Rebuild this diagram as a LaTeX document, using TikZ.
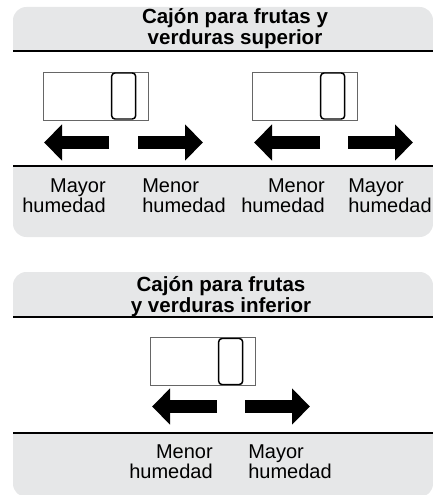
\documentclass[tikz,border=0pt]{standalone}
\usepackage{fontspec}
\setmainfont{Liberation Sans}
\usetikzlibrary{arrows.meta, positioning}
\definecolor{panelgray}{RGB}{230,231,232}

\begin{document}
\begin{tikzpicture}[
        x=0.75pt, y=-0.75pt,
        every node/.style={font=\fontsize{15}{15}\selectfont, inner sep=0pt},
        heading/.style={font=\bfseries\fontsize{15.4}{13.5}\selectfont, align=center, anchor=north},
        panel/.style={fill=panelgray, rounded corners=10pt},
        band/.style={fill=white},
        rule/.style={draw, line width=0.9pt},
        slot/.style={draw=black!60, line width=0.6pt, fill=white, minimum width=78.75pt, minimum height=36pt},
        knob/.style={draw, line width=1.1pt, rounded corners=2.5pt, minimum width=18pt, minimum height=34.5pt},
        fatarrow/.style={line width=9.75pt, -{Triangle[length=13.5pt, width=26.25pt]}},
        leftlabel/.style={anchor=north east, align=right},
        rightlabel/.style={anchor=north west, align=left}
    ]
        \useasboundingbox (0,0) rectangle (432,495);

        % Panels
        \fill[panel] (13,7) rectangle (433,237);
        \fill[band] (13,51) rectangle (433,166);
        \draw[rule] (13,51) -- (433,51);
        \draw[rule] (13,166) -- (433,166);

        \fill[panel] (13,272) rectangle (433,497);
        \fill[band] (13,317) rectangle (433,433);
        \draw[rule] (13,317) -- (433,317);
        \draw[rule] (13,433) -- (433,433);

        % Headings
        \node[heading] (upper_title) at (235,8.5) {Cajón para frutas y\\verduras superior};
        \node[heading] (lower_title) at (221,276.5) {Cajón para frutas\\y verduras inferior};

        % Sliders
        \node[slot] (slot1) at (95.5,96) {};
        \node[knob, left=9pt of slot1.east] (knob1) {};
        \node[slot] (slot2) at (304.5,96) {};
        \node[knob, left=9pt of slot2.east] (knob2) {};
        \node[slot] (slot3) at (202.5,361.5) {};
        \node[knob, left=9pt of slot3.east] (knob3) {};

        % Arrows
        \coordinate (tail1l) at (109,142.5);
        \coordinate (tip1l) at (44,142.5);
        \coordinate (tail1r) at (138,142.5);
        \coordinate (tip1r) at (203,142.5);
        \coordinate (tail2l) at (320,142.5);
        \coordinate (tip2l) at (254,142.5);
        \coordinate (tail2r) at (348,142.5);
        \coordinate (tip2r) at (413,142.5);
        \coordinate (tail3l) at (217,406.5);
        \coordinate (tip3l) at (152,406.5);
        \coordinate (tail3r) at (245,406.5);
        \coordinate (tip3r) at (310,406.5);
        \draw[fatarrow] (tail1l) -- (tip1l);
        \draw[fatarrow] (tail1r) -- (tip1r);
        \draw[fatarrow] (tail2l) -- (tip2l);
        \draw[fatarrow] (tail2r) -- (tip2r);
        \draw[fatarrow] (tail3l) -- (tip3l);
        \draw[fatarrow] (tail3r) -- (tip3r);

        % Labels
        \node[leftlabel] (more1) at (106,178.7) {Mayor\\humedad};
        \node[rightlabel] (less1) at (142,178.7) {Menor\\humedad};
        \node[leftlabel] (less2) at (325,178.7) {Menor\\humedad};
        \node[rightlabel] (more2) at (348,178.7) {Mayor\\humedad};
        \node[leftlabel] (less3) at (213,444.7) {Menor\\humedad};
        \node[rightlabel] (more3) at (248,444.7) {Mayor\\humedad};
    \end{tikzpicture}
\end{document}
